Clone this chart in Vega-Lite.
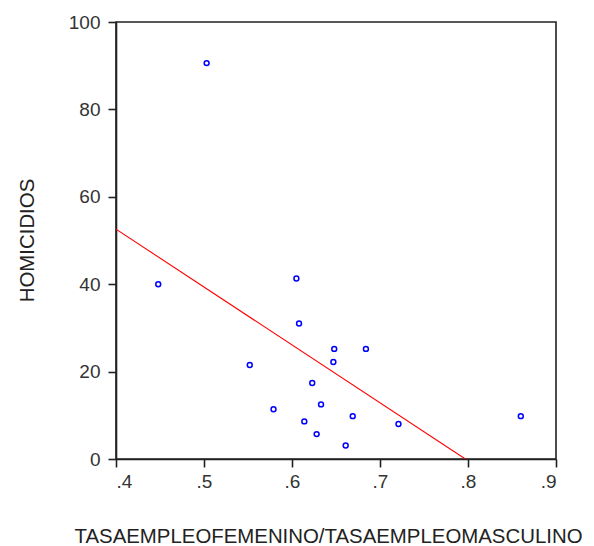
{
  "$schema": "https://vega.github.io/schema/vega-lite/v6.json",
  "width": 440,
  "height": 437,
  "autosize": "none",
  "padding": {"left": 116, "top": 22, "right": 38, "bottom": 87},
  "background": "white",
  "config": {
    "font": "Liberation Sans",
    "view": {"stroke": "#222", "strokeWidth": 1.6},
    "axis": {
      "grid": false,
      "domainColor": "#222",
      "domainWidth": 1.6,
      "tickColor": "#222",
      "tickWidth": 1.6,
      "tickSize": 8,
      "labelFont": "Liberation Sans",
      "labelFontSize": 19,
      "labelColor": "#333",
      "titleFont": "Liberation Sans",
      "titleFontSize": 20.4,
      "titleFontWeight": "normal",
      "titleColor": "#222"
    }
  },
  "datasets": {
    "pts": [
      {"ratio": 0.503, "homicidios": 90.6},
      {"ratio": 0.448, "homicidios": 40.0},
      {"ratio": 0.605, "homicidios": 41.3},
      {"ratio": 0.608, "homicidios": 31.0},
      {"ratio": 0.648, "homicidios": 25.2},
      {"ratio": 0.684, "homicidios": 25.2},
      {"ratio": 0.647, "homicidios": 22.2},
      {"ratio": 0.552, "homicidios": 21.5},
      {"ratio": 0.623, "homicidios": 17.4},
      {"ratio": 0.579, "homicidios": 11.4},
      {"ratio": 0.633, "homicidios": 12.5},
      {"ratio": 0.614, "homicidios": 8.6},
      {"ratio": 0.669, "homicidios": 9.8},
      {"ratio": 0.628, "homicidios": 5.7},
      {"ratio": 0.661, "homicidios": 3.1},
      {"ratio": 0.721, "homicidios": 8.0},
      {"ratio": 0.860, "homicidios": 9.8}
    ],
    "fit": [
      {"ratio": 0.4, "homicidios": 52.6},
      {"ratio": 0.797, "homicidios": 0}
    ]
  },
  "layer": [
    {
      "data": {"name": "fit"},
      "mark": {"type": "line", "color": "#ff0000", "strokeWidth": 1.1, "clip": true},
      "encoding": {
        "x": {
          "field": "ratio", "type": "quantitative",
          "scale": {"domain": [0.4, 0.9], "nice": false, "zero": false},
          "axis": {
            "values": [0.4, 0.5, 0.6, 0.7, 0.8, 0.9],
            "labelExpr": "replace(format(datum.value, '.1f'), '0.', '.')",
            "labelPadding": 5,
            "title": "TASAEMPLEOFEMENINO/TASAEMPLEOMASCULINO",
            "titleX": 212,
            "titleY": 83,
            "titleAlign": "center",
            "titleBaseline": "alphabetic"
          }
        },
        "y": {
          "field": "homicidios", "type": "quantitative",
          "scale": {"domain": [0, 100], "nice": false},
          "axis": {
            "values": [0, 20, 40, 60, 80, 100],
            "labelPadding": 8,
            "title": "HOMICIDIOS",
            "titleAngle": -90,
            "titleX": -83,
            "titleY": 218,
            "titleAlign": "center",
            "titleBaseline": "alphabetic"
          }
        }
      }
    },
    {
      "data": {"name": "pts"},
      "mark": {"type": "point", "shape": "circle", "filled": false, "color": "#0000ff", "size": 24, "strokeWidth": 1.5, "opacity": 1},
      "encoding": {
        "x": {"field": "ratio", "type": "quantitative"},
        "y": {"field": "homicidios", "type": "quantitative"}
      }
    }
  ]
}
